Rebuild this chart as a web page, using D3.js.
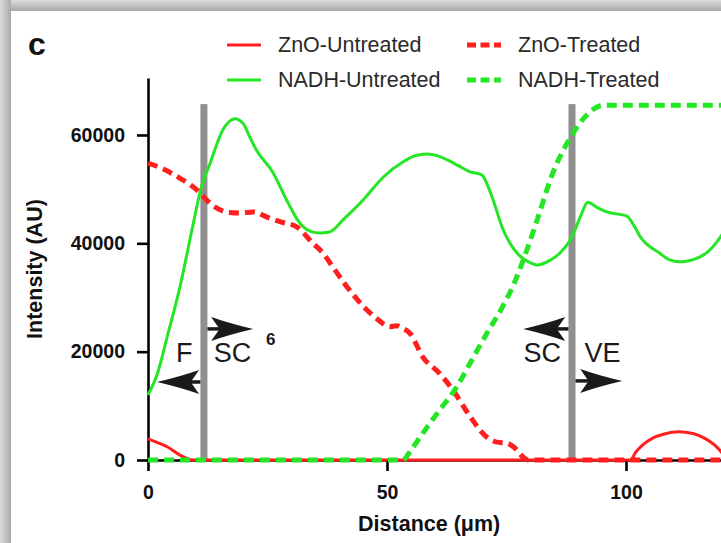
<!DOCTYPE html>
<html><head><meta charset="utf-8">
<script src="https://cdn.jsdelivr.net/npm/d3@7"></script>
<style>body{margin:0;background:#fff}svg{display:block}</style>
</head><body><svg id="chart" width="721" height="543"></svg>
<script>
// ---- data ----
const seriesNames = ["ZnO-Untreated", "ZnO-Treated", "NADH-Untreated", "NADH-Treated"];
const xTicks = [0, 50, 100];
const yTicks = [0, 20000, 40000, 60000];
const boundaries = [11.7, 88.7];   // vertical grey layer boundaries (µm)

const znoUntreated = [[0,3900],[2,3200],[4,2450],[6.7,900],[8,350],[9.5,0],[30,0],[60,0],[90,0],[101,0],
  [102,1400],[103.5,2800],[105.5,4000],[108,4800],[111,5200],[114,4900],[116.5,4000],[118.5,2800],[120,1400],[121,0]];
const znoTreated = [[0,54800],[3,53800],[6.7,52000],[9,50700],[10.9,49300],[12.5,47800],[14.4,46500],[17,45700],
  [19.2,45600],[22,45800],[25,44800],[27.6,44000],[31.2,43000],[34.5,40000],[36.6,38200],[38.7,35600],[41.6,32000],
  [45.8,27700],[48,26000],[50.6,24600],[52,24800],[53.3,24300],[54.8,23400],[57.5,19000],[61,16000],[63.8,12900],
  [67.4,8000],[70.9,4200],[73,3300],[75.1,3100],[77,2000],[78.5,500],[79.5,0],[100,0],[121,0]];
const nadhUntreated = [[0,12000],[2,16000],[4,22700],[6.7,32000],[9.2,42500],[11,49800],[13,54800],[15.7,61000],
  [18.2,63000],[20,62000],[21.3,59600],[22.7,57200],[26.2,53000],[29,48000],[31.8,43700],[34,42200],[36,41900],
  [38,42100],[41,44500],[45,48000],[49.2,52200],[53.3,55000],[56,56200],[58.4,56500],[60.5,56200],[62.6,55400],
  [65,54300],[67.4,53200],[69.9,52600],[71,50800],[72.2,48000],[74.3,42500],[77.2,38200],[80,36400],[81.4,36000],
  [84,36800],[86.2,38200],[88.7,41200],[90.5,45000],[92,47600],[94,46600],[96,45800],[100.2,45000],[101.5,43500],
  [103,41200],[107,38200],[109,37000],[111.3,36600],[115.5,37500],[118,39200],[120,41500],[121,43000]];
const nadhTreated = [[0,0],[25,0],[53.3,0],[55,1800],[56.9,4200],[59,6800],[61,9200],[64.6,13500],[67.4,17900],
  [70.9,23400],[74.3,28500],[76.4,32200],[78.5,36900],[81.4,44300],[84.7,53000],[88.7,60000],[91.8,63700],
  [95.2,65500],[100,65500],[121,65500]];

// annotation labels: [text, x(µm), intensity]
const layerLabels = [["F", 7.6, 19750], ["SC", 17.7, 19750], ["SC", 82.5, 19750], ["VE", 95.1, 19750]];
const superLabel = ["6", 25.7, 22300];
// arrows: [tip x (µm), boundary index, intensity]
const arrows = [[1.9, 0, 14400], [22, 0, 24200], [78.5, 1, 24200], [99.2, 1, 14600]];

// ---- drawing ----
const svg = d3.select("#chart");
const W = 721, H = 543;
const font = "'Liberation Sans', Arial, Helvetica, sans-serif";
const RED = "#ff1f1f", GREEN = "#25e625";

// frame shading
const defs = svg.append("defs");
const gl = defs.append("linearGradient").attr("id","gl").attr("x1","0").attr("x2","1").attr("y1","0").attr("y2","0");
gl.append("stop").attr("offset","0").attr("stop-color","#dcdcdc");
gl.append("stop").attr("offset","1").attr("stop-color","#a9a9a9");
const gt = defs.append("linearGradient").attr("id","gt").attr("x1","0").attr("x2","0").attr("y1","0").attr("y2","1");
gt.append("stop").attr("offset","0").attr("stop-color","#dcdcdc");
gt.append("stop").attr("offset","1").attr("stop-color","#a9a9a9");
svg.append("rect").attr("x",0).attr("y",0).attr("width",W).attr("height",11).attr("fill","url(#gt)");
svg.append("rect").attr("x",0).attr("y",0).attr("width",11).attr("height",H).attr("fill","url(#gl)");
svg.append("rect").attr("x",11).attr("y",11).attr("width",W-11).attr("height",H-11).attr("fill","#fff");

const x = d3.scaleLinear().domain([0, 121]).range([148, 148 + 121 * 4.78]);
const y = d3.scaleLinear().domain([0, 70500]).range([460, 460 - 70500 * 0.005417]);

// panel letter
svg.append("text").attr("x", 28).attr("y", 55).text("c")
  .attr("font-family", font).attr("font-weight", "bold").attr("font-size", 32).attr("fill", "#111");

// grey boundary bars
svg.append("g").selectAll("rect").data(boundaries).join("rect")
  .attr("x", d => x(d) - 3.5).attr("width", 7)
  .attr("y", y(65700)).attr("height", y(0) - y(65700))
  .attr("fill", "#8f8f8f");

// axes
const xAxis = svg.append("g").attr("transform", `translate(0,${y(0)})`)
  .call(d3.axisBottom(x).tickValues(xTicks).tickSize(11).tickPadding(14).tickSizeOuter(0).tickFormat(d3.format("d")));
const yAxis = svg.append("g").attr("transform", `translate(${x(0)},0)`)
  .call(d3.axisLeft(y).tickValues(yTicks).tickSize(11).tickPadding(12).tickSizeOuter(0).tickFormat(d3.format("d")));
[xAxis, yAxis].forEach(g => {
  g.select(".domain").attr("stroke", "#000").attr("stroke-width", 2.6);
  g.selectAll(".tick line").attr("stroke", "#000").attr("stroke-width", 2.6);
  g.selectAll(".tick text").attr("font-family", font).attr("font-weight", "bold")
    .attr("font-size", 19.5).attr("fill", "#111");
});

// axis titles
svg.append("text").attr("transform", `translate(35,${(y(0) + y(70500)) / 2}) rotate(-90)`)
  .attr("text-anchor", "middle").attr("dominant-baseline", "central")
  .attr("font-family", font).attr("font-weight", "bold").attr("font-size", 21.5).attr("fill", "#111")
  .text("Intensity (AU)");
svg.append("text").attr("x", (x.range()[0] + x.range()[1]) / 2 - 8).attr("y", 531)
  .attr("text-anchor", "middle")
  .attr("font-family", font).attr("font-weight", "bold").attr("font-size", 21.5).attr("fill", "#111")
  .text("Distance (\u03bcm)");

// series
const line = d3.line().x(d => x(d[0])).y(d => y(d[1])).curve(d3.curveMonotoneX);
const series = [
  {data: znoUntreated, color: RED, dash: null, w: 3},
  {data: nadhUntreated, color: GREEN, dash: null, w: 3},
  {data: znoTreated, color: RED, dash: "10,6", w: 5},
  {data: nadhTreated, color: GREEN, dash: "10,6", w: 5}
];
svg.append("defs").append("clipPath").attr("id", "clip").append("rect")
  .attr("x", 0).attr("y", 0).attr("width", W).attr("height", H);
svg.append("g").attr("clip-path", "url(#clip)").selectAll("path").data(series).join("path")
  .attr("d", d => line(d.data)).attr("fill", "none")
  .attr("stroke", d => d.color).attr("stroke-width", d => d.w)
  .attr("stroke-dasharray", d => d.dash);

// layer labels
svg.append("g").selectAll("text").data(layerLabels).join("text")
  .attr("x", d => x(d[1])).attr("y", d => y(d[2])).attr("text-anchor", "middle").attr("dominant-baseline", "central")
  .attr("font-family", font).attr("font-size", 27).attr("fill", "#1a1a1a").text(d => d[0]);
svg.append("text").attr("x", x(superLabel[1])).attr("y", y(superLabel[2]))
  .attr("text-anchor", "middle").attr("dominant-baseline", "central")
  .attr("font-family", font).attr("font-weight", "bold").attr("font-size", 17).attr("fill", "#1a1a1a").text(superLabel[0]);

// arrows
const ag = svg.append("g");
arrows.forEach(([tipX, bi, v]) => {
  const tx = x(tipX), ty = y(v);
  const bx = x(boundaries[bi]);
  const dir = tx > bx ? 1 : -1;
  const tail = bx + dir * 3.5;
  const L = Math.min(42, Math.abs(tx - tail) - 1), h = 12;
  ag.append("line").attr("x1", tail).attr("x2", tx - dir * L * 0.7).attr("y1", ty).attr("y2", ty)
    .attr("stroke", "#1a1a1a").attr("stroke-width", 3.5);
  const p = d3.path();
  p.moveTo(tx, ty);
  p.quadraticCurveTo(tx - dir * L * 0.55, ty - h * 0.45, tx - dir * L, ty - h);
  p.lineTo(tx - dir * L * 0.8, ty);
  p.lineTo(tx - dir * L, ty + h);
  p.quadraticCurveTo(tx - dir * L * 0.55, ty + h * 0.45, tx, ty);
  p.closePath();
  ag.append("path").attr("d", p.toString()).attr("fill", "#1a1a1a");
});

// legend
const legend = [
  {name: seriesNames[0], color: RED, dash: null, w: 3, col: 0, row: 0},
  {name: seriesNames[1], color: RED, dash: "9,4.5", w: 5, col: 1, row: 0},
  {name: seriesNames[2], color: GREEN, dash: null, w: 3, col: 0, row: 1},
  {name: seriesNames[3], color: GREEN, dash: "9,4.5", w: 5, col: 1, row: 1}
];
const colX = [227, 467], rowY = [45, 80];
const lg = svg.append("g").selectAll("g").data(legend).join("g")
  .attr("transform", d => `translate(${colX[d.col]},${rowY[d.row]})`);
lg.append("line").attr("x1", 0).attr("x2", 34).attr("y1", 0).attr("y2", 0)
  .attr("stroke", d => d.color).attr("stroke-width", d => d.w).attr("stroke-dasharray", d => d.dash);
lg.append("text").attr("x", 51).attr("y", 0).attr("dominant-baseline", "central")
  .attr("font-family", font).attr("font-size", 21.5).attr("fill", "#2a2a2a").text(d => d.name);
</script></body></html>
